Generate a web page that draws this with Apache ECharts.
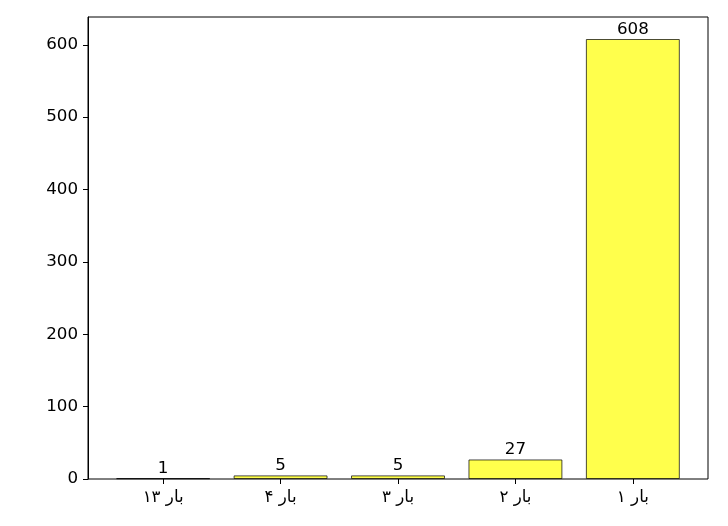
<!DOCTYPE html>
<html>
<head>
<meta charset="utf-8">
<script src="https://cdn.jsdelivr.net/npm/echarts@6/dist/echarts.min.js"></script>
<style>
  html, body { margin: 0; padding: 0; background: #fff; }
  #main { width: 728px; height: 526px; }
</style>
</head>
<body>
<div id="main"></div>
<script>
const categories = ['۱۳ بار', '۴ بار', '۳ بار', '۲ بار', '۱ بار'];
const counts = [1, 5, 5, 27, 608];
const yTicks = [0, 100, 200, 300, 400, 500, 600];

const font = 'DejaVu Sans';
const fs = 16.7;
const chart = echarts.init(document.getElementById('main'));

// frame grid covers the whole axes box, bar grid is inset like matplotlib margins
const frame = { left: 88, top: 17, width: 620, height: 462 };
const unit = 620 / 5.28;
const inset = 0.14 * unit;

chart.setOption({
  animation: false,
  textStyle: { fontFamily: font },
  grid: [
    { left: frame.left, top: frame.top, width: frame.width, height: frame.height,
      show: true, borderColor: '#000', borderWidth: 1, backgroundColor: 'transparent' },
    { left: frame.left + inset, top: frame.top, width: frame.width - 2 * inset, height: frame.height }
  ],
  xAxis: [
    { gridIndex: 0, type: 'value', min: 0, max: 1, show: false },
    {
      gridIndex: 1, type: 'category', data: categories, boundaryGap: true,
      axisLine: { show: false },
      axisTick: { show: true, alignWithLabel: true, length: 5, lineStyle: { color: '#000' } },
      axisLabel: { color: '#000', fontSize: fs, fontFamily: font, margin: 10 }
    }
  ],
  yAxis: [
    {
      gridIndex: 0, type: 'value', min: 0, max: 638.4, interval: 100,
      axisLine: { show: true, lineStyle: { color: '#000' } },
      axisTick: { show: true, length: 5, customValues: yTicks, lineStyle: { color: '#000' } },
      axisLabel: {
        color: '#000', fontSize: fs, fontFamily: font, margin: 10,
        customValues: yTicks
      },
      splitLine: { show: false }
    },
    { gridIndex: 1, type: 'value', min: 0, max: 638.4, show: false, splitLine: { show: false } }
  ],
  series: [{
    type: 'bar',
    xAxisIndex: 1,
    yAxisIndex: 1,
    data: counts,
    barWidth: '80%',
    itemStyle: { color: 'rgba(255,255,0,0.7)', borderColor: 'rgba(0,0,0,0.7)', borderWidth: 1 },
    label: { show: true, position: 'top', distance: 1, color: '#000', fontSize: fs, fontFamily: font }
  }]
});
</script>
</body>
</html>
